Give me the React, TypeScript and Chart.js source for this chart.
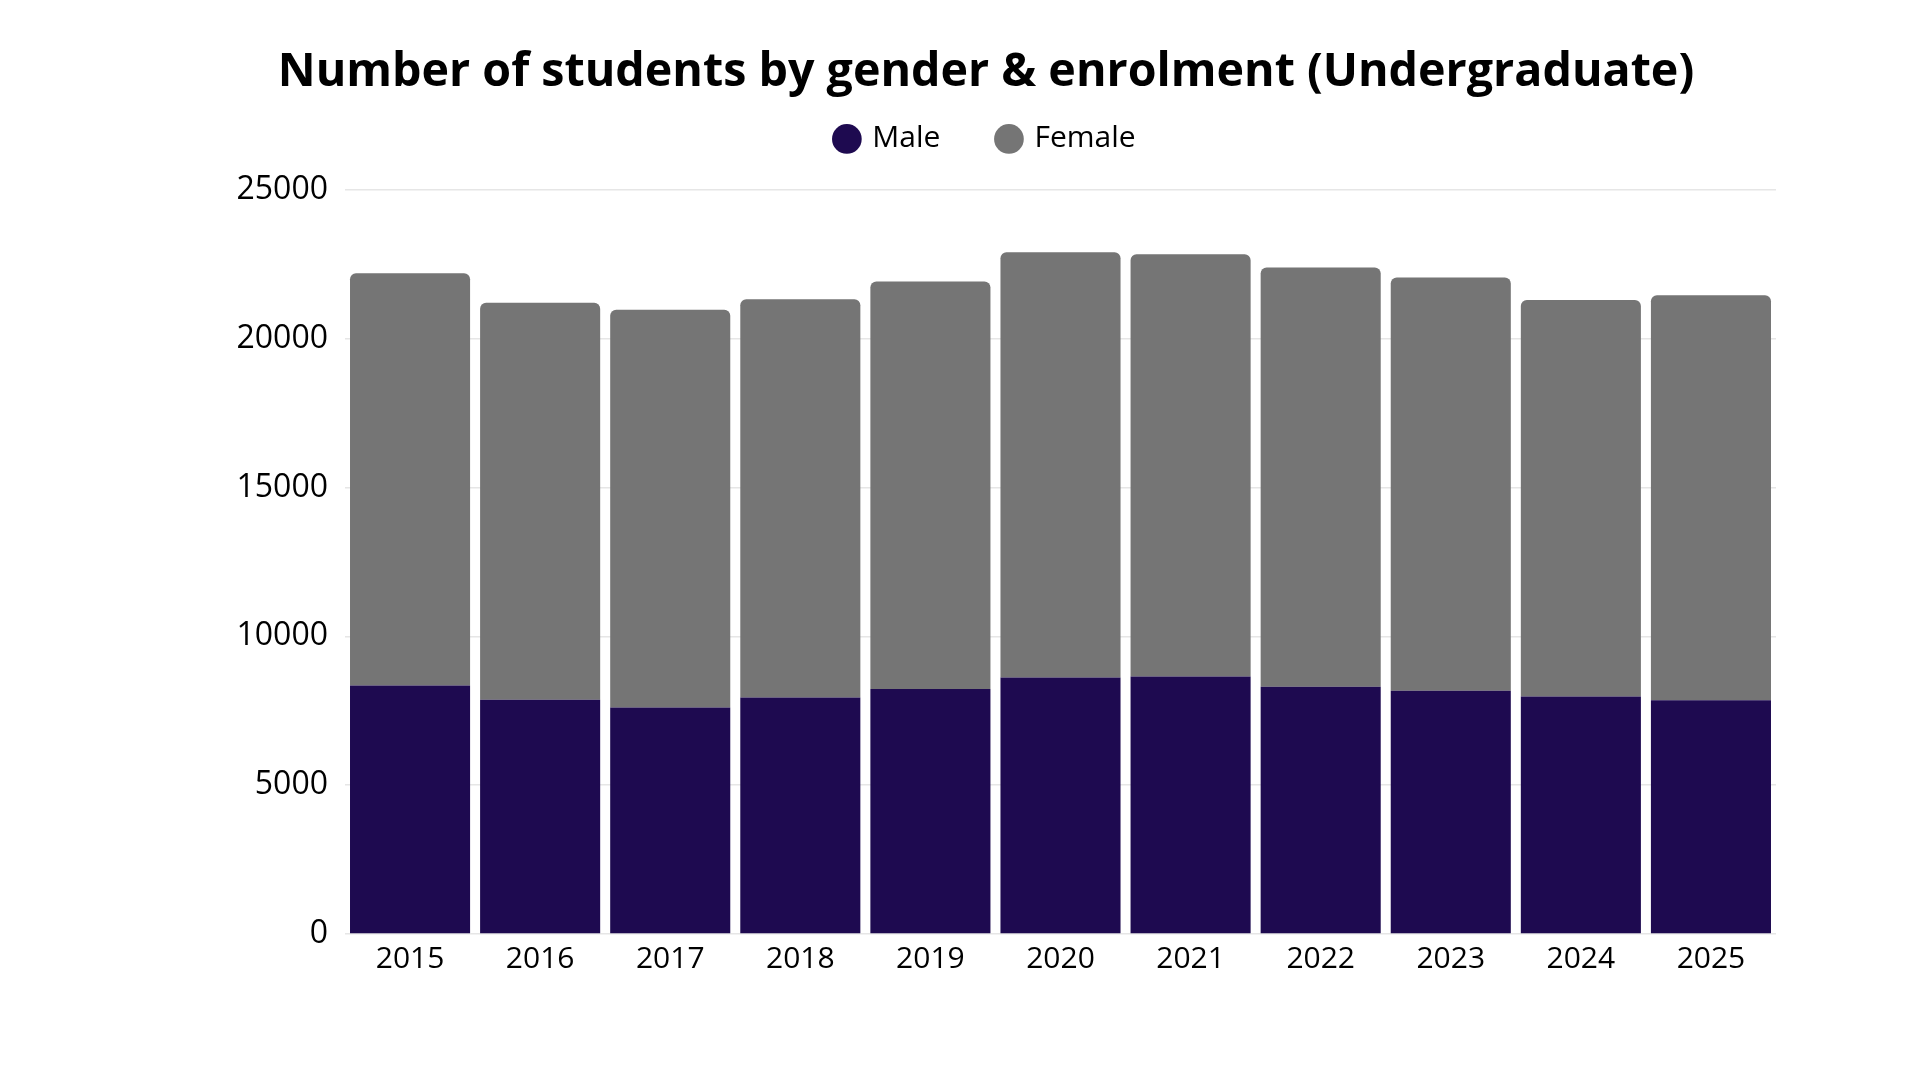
import { useEffect, useRef } from 'react'
import { Chart, registerables, ChartConfiguration, Plugin } from 'chart.js'

Chart.register(...registerables)

const years = ['2015', '2016', '2017', '2018', '2019', '2020', '2021', '2022', '2023', '2024', '2025']
const maleStudents = [8350, 7870, 7610, 7950, 8230, 8620, 8650, 8310, 8170, 7980, 7850]
const femaleStudents = [13850, 13340, 13360, 13380, 13690, 14290, 14190, 14080, 13890, 13320, 13610]
const yTicks = [0, 5000, 10000, 15000, 20000, 25000]

const MALE_COLOR = '#1e0a50'
const FEMALE_COLOR = '#757575'

// the legend sits closer to the title than Chart.js would like, so pad its box below
const legendGap: Plugin<'bar'> = {
  id: 'legendGap',
  beforeInit(chart) {
    const legend = chart.legend as any
    if (!legend) return
    const fit = legend.fit
    legend.fit = function () {
      fit.call(this)
      this.height += 26
    }
  },
}

export default function App() {
  const canvasRef = useRef<HTMLCanvasElement>(null)
  const chartRef = useRef<Chart | null>(null)

  useEffect(() => {
    document.body.style.margin = '0'
    if (!canvasRef.current) return
    if (chartRef.current) chartRef.current.destroy()

    const ctx = canvasRef.current.getContext('2d')
    if (!ctx) return

    const config: ChartConfiguration<'bar'> = {
      type: 'bar',
      data: {
        labels: years,
        datasets: [
          {
            label: 'Male',
            data: maleStudents,
            backgroundColor: MALE_COLOR,
            borderWidth: 0,
            barPercentage: 0.923,
            categoryPercentage: 1,
          },
          {
            label: 'Female',
            data: femaleStudents,
            backgroundColor: FEMALE_COLOR,
            borderWidth: 0,
            borderRadius: 6,
            barPercentage: 0.923,
            categoryPercentage: 1,
          },
        ],
      },
      options: {
        responsive: true,
        maintainAspectRatio: false,
        animation: false,
        layout: {
          padding: { left: 196, right: 144, top: 0, bottom: 0 },
        },
        plugins: {
          title: {
            display: true,
            text: 'Number of students by gender & enrolment (Undergraduate)',
            color: '#000000',
            font: { family: 'Open Sans', size: 46.6, weight: 'bold', lineHeight: 1.2 },
            padding: { top: 45, bottom: -35 },
          },
          legend: {
            display: true,
            position: 'top',
            labels: {
              usePointStyle: true,
              pointStyle: 'circle',
              boxWidth: 21,
              boxHeight: 21,
              padding: 58,
              color: '#000000',
              font: { family: 'Open Sans', size: 30 },
            },
          },
          tooltip: { enabled: false },
        },
        scales: {
          x: {
            stacked: true,
            grid: { display: false, drawTicks: false },
            border: { display: false },
            ticks: {
              color: '#000000',
              padding: 7,
              font: { family: 'Open Sans', size: 30 },
            },
            afterFit: (scale) => {
              scale.height = 146
            },
          },
          y: {
            stacked: true,
            min: 0,
            max: 25000,
            afterBuildTicks: (scale) => {
              scale.ticks = yTicks.map((v) => ({ value: v }))
            },
            grid: { color: '#e6e6e6', lineWidth: 1.5, drawTicks: false },
            border: { display: false },
            ticks: {
              color: '#000000',
              padding: 17,
              font: { family: 'Open Sans', size: 32 },
              callback: (value) => String(value),
            },
            afterFit: (scale) => {
              scale.width = 149
            },
          },
        },
      },
      plugins: [legendGap],
    }

    chartRef.current = new Chart(ctx, config)

    return () => {
      if (chartRef.current) {
        chartRef.current.destroy()
        chartRef.current = null
      }
    }
  }, [])

  return (
    <div style={{ width: 1920, height: 1080, position: 'relative', background: '#ffffff' }}>
      <canvas ref={canvasRef} />
    </div>
  )
}
